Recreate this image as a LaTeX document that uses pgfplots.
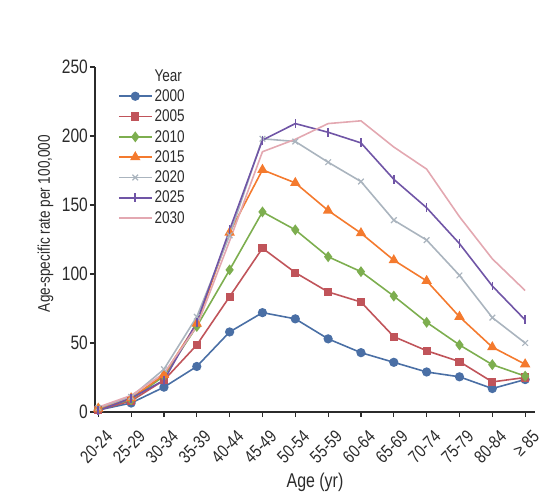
\documentclass[border=0pt]{standalone}
\usepackage{fontspec}
\setmainfont{Liberation Sans}[FakeStretch=0.8]
\usepackage{pgfplots}
\pgfplotsset{compat=1.18}
\definecolor{c00}{HTML}{4A6FA5}
\definecolor{c05}{HTML}{C0545A}
\definecolor{c10}{HTML}{7DAE4F}
\definecolor{c15}{HTML}{F47A2E}
\definecolor{c20}{HTML}{AAB4BE}
\definecolor{c25}{HTML}{7055A6}
\definecolor{c30}{HTML}{E3A8B1}
\definecolor{txt}{HTML}{2B2B2B}
\begin{document}
\begin{tikzpicture}
\begin{axis}[
  name=ax,
  scale only axis, width=440bp, height=345bp,
  xmin=-0.1, xmax=13.3, ymin=0, ymax=250,
  axis lines=left, axis line style={-, line width=1.3pt, txt},
  tick align=outside, major tick length=5bp,
  tick style={line width=1.2pt, txt},
  xtick={0,...,13},
  xticklabels={20-24,25-29,30-34,35-39,40-44,45-49,50-54,55-59,60-64,65-69,70-74,75-79,80-84,≥ 85},
  x tick label style={rotate=45, anchor=north east, inner sep=1pt, xshift=-3bp, yshift=-12bp, font=\fontsize{18}{20}\selectfont},
  ytick={0,50,100,150,200,250},
  y tick label style={font=\fontsize{19.5}{21}\selectfont, inner sep=2pt},
  /pgf/number format/assume math mode=true,
  ticklabel style={text=txt},
  xlabel={Age (yr)}, ylabel={Age-specific rate per 100,000},
  label style={text=txt},
  ylabel style={font=\fontsize{17}{19}\selectfont, yshift=3bp, xshift=16bp},
  xlabel style={font=\fontsize{20}{22}\selectfont, yshift=-4bp},
  legend style={draw=none, fill=none, at={(0.045,1.005)}, anchor=north west,
    font=\fontsize{17}{19}\selectfont, text=txt, row sep=3bp},
  legend cell align=left,
  legend image code/.code={\draw[mark repeat=2,mark phase=2] plot coordinates {(0bp,0bp) (16.5bp,0bp) (33bp,0bp)};},
  every axis plot/.append style={line width=1.6pt},
  clip=false,
]
\addlegendimage{opacity=0, draw opacity=0}
\addlegendentry{Year}
\addplot[c00, mark=*, mark size=3.8pt] coordinates {(0,1.4) (1,6.5) (2,18) (3,33) (4,58) (5,72) (6,67.5) (7,53) (8,43) (9,36) (10,29) (11,25.5) (12,17) (13,23.5)};
\addlegendentry{2000}
\addplot[c05, mark=square*, mark size=3.3pt] coordinates {(0,1.5) (1,8) (2,23) (3,48.6) (4,83.6) (5,118.7) (6,101) (7,87) (8,79.7) (9,54.6) (10,44.4) (11,36.5) (12,21.8) (13,25)};
\addlegendentry{2005}
\addplot[c10, mark=diamond*, mark size=4.2pt] coordinates {(0,2.5) (1,9) (2,26) (3,62) (4,103) (5,145) (6,132) (7,112.5) (8,101.7) (9,84) (10,65) (11,48.6) (12,34.3) (13,26)};
\addlegendentry{2010}
\addplot[c15, mark=triangle*, mark size=4.5pt] coordinates {(0,2.5) (1,10) (2,27) (3,64) (4,130) (5,175.5) (6,166) (7,146) (8,129.6) (9,110) (10,95) (11,69) (12,47) (13,34.6)};
\addlegendentry{2015}
\addplot[c20, mark=x, mark size=4pt, mark options={line width=1.2pt}] coordinates {(0,3) (1,11) (2,31) (3,69) (4,128) (5,198) (6,196) (7,181) (8,167) (9,139) (10,124.6) (11,99) (12,68.4) (13,50)};
\addlegendentry{2020}
\addplot[c25, mark=|, mark size=4.5pt, mark options={line width=1.6pt}] coordinates {(0,1) (1,10) (2,23) (3,65) (4,132) (5,197) (6,209) (7,202.7) (8,195) (9,168.6) (10,148) (11,122) (12,91.3) (13,66.7)};
\addlegendentry{2025}
\addplot[c30, no marks] coordinates {(0,3.5) (1,12) (2,28) (3,62) (4,124) (5,188.6) (6,197.6) (7,209) (8,211) (9,192) (10,176) (11,141.5) (12,111) (13,88)};
\addlegendentry{2030}
\end{axis}
\useasboundingbox ([shift={(-95bp,-85bp)}]ax.south west) rectangle ([shift={(19bp,67bp)}]ax.north east);
\end{tikzpicture}
\end{document}
